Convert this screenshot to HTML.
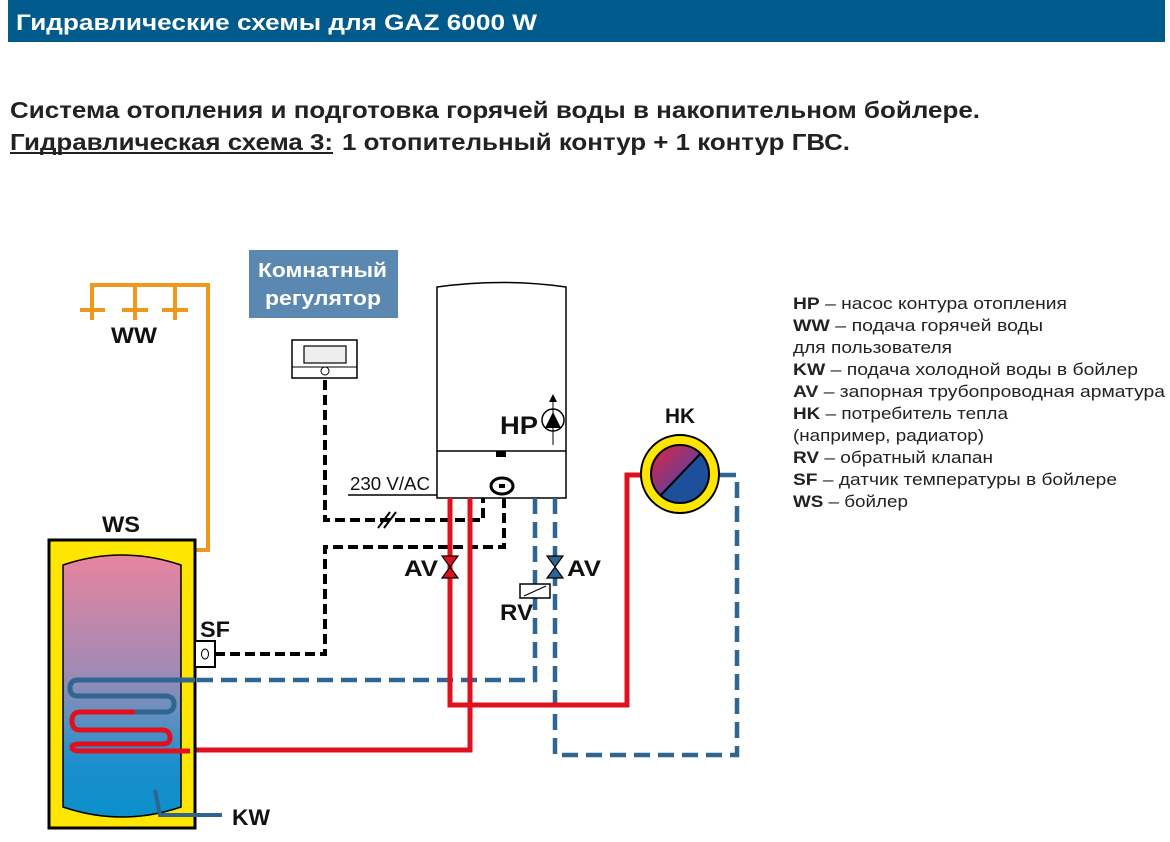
<!DOCTYPE html>
<html><head><meta charset="utf-8"><style>
html,body{margin:0;padding:0;background:#fff;}
svg{display:block;font-family:"Liberation Sans",sans-serif;}
</style></head><body>
<svg width="1170" height="842" viewBox="0 0 1170 842" xmlns="http://www.w3.org/2000/svg">
<defs>
<linearGradient id="tank" x1="0" y1="0" x2="0" y2="1">
<stop offset="0" stop-color="#e8849f"/><stop offset="0.45" stop-color="#a08ab5"/><stop offset="0.62" stop-color="#5f90c0"/><stop offset="0.8" stop-color="#1a8fcb"/><stop offset="1" stop-color="#0a90cc"/>
</linearGradient>
<linearGradient id="hk" x1="0" y1="0" x2="1" y2="1">
<stop offset="0" stop-color="#e4233a"/><stop offset="0.5" stop-color="#7a3a8a"/><stop offset="0.5" stop-color="#1e4f9a"/><stop offset="1" stop-color="#1e4f9a"/>
</linearGradient>
</defs>
<rect x="8" y="0" width="1157" height="42" fill="#005a8c"/>
<text x="16" y="30" fill="#fff" font-size="22" font-weight="bold" textLength="521" lengthAdjust="spacingAndGlyphs">Гидравлические схемы для GAZ 6000 W</text>
<text x="10" y="118" fill="#222" font-size="23" font-weight="bold" textLength="970" lengthAdjust="spacingAndGlyphs">Система отопления и подготовка горячей воды в накопительном бойлере.</text>
<text x="10" y="150" fill="#222" font-size="23" font-weight="bold" textLength="323" lengthAdjust="spacingAndGlyphs">Гидравлическая схема 3:</text>
<line x1="10" y1="153" x2="333" y2="153" stroke="#222" stroke-width="2"/>
<text x="342" y="150" fill="#222" font-size="23" font-weight="bold" textLength="508" lengthAdjust="spacingAndGlyphs">1 отопительный контур + 1 контур ГВС.</text>

<!-- WW orange -->
<g stroke="#f0981e" stroke-width="4" fill="none">
<path d="M92 320 V285 H208 V550 H180 L168 564"/>
<path d="M135 285 V320 M175 285 V320"/>
<path d="M80 310 H105 M122 310 H148 M162 310 H188"/>
</g>
<text x="111" y="343" font-size="22" font-weight="bold" fill="#111" textLength="46" lengthAdjust="spacingAndGlyphs">WW</text>

<!-- room regulator -->
<rect x="249" y="250" width="149" height="68" fill="#5b88b0"/>
<text x="258" y="277" fill="#fff" font-size="20" font-weight="bold" textLength="129" lengthAdjust="spacingAndGlyphs">Комнатный</text>
<text x="265" y="305" fill="#fff" font-size="20" font-weight="bold" textLength="116" lengthAdjust="spacingAndGlyphs">регулятор</text>
<rect x="292" y="340" width="65" height="38" fill="#fff" stroke="#000" stroke-width="1.5"/>
<rect x="304" y="346" width="42" height="17" fill="#eee" stroke="#000" stroke-width="1.2"/>
<line x1="292" y1="367" x2="357" y2="367" stroke="#000" stroke-width="1"/>
<circle cx="325" cy="371" r="4" fill="none" stroke="#000" stroke-width="1"/>

<!-- black dashed -->
<g stroke="#000" stroke-width="4" fill="none" stroke-dasharray="10,5">
<path d="M325 380 V520 H483 V497"/>
<path d="M215 654 H325 V547 H504 V490"/>
</g>
<path d="M378 528 L390 512 M384 528 L396 512" stroke="#000" stroke-width="2"/>

<!-- 230V -->
<text x="350" y="490" font-size="18" fill="#111" textLength="80" lengthAdjust="spacingAndGlyphs">230 V/AC</text>
<line x1="348" y1="495" x2="437" y2="495" stroke="#000" stroke-width="1.5"/>

<!-- boiler -->
<path d="M437 498 V287 Q502 278 566 287 V498 Z" fill="#fff" stroke="#000" stroke-width="1.5"/>
<line x1="437" y1="451" x2="566" y2="451" stroke="#000" stroke-width="1.5"/>
<rect x="496" y="451" width="10" height="6" fill="#000"/>
<ellipse cx="502" cy="486" rx="11" ry="8" fill="none" stroke="#000" stroke-width="3"/>
<rect x="499" y="484" width="6" height="4" fill="#000"/>
<text x="500" y="434" font-size="25" font-weight="bold" fill="#111" textLength="38" lengthAdjust="spacingAndGlyphs">HP</text>
<circle cx="553" cy="420" r="11" fill="#fff" stroke="#000" stroke-width="1.5"/>
<path d="M545 428 L553 412 L561 428 Z" fill="#000"/>
<line x1="553" y1="398" x2="553" y2="445" stroke="#000" stroke-width="1"/>
<path d="M549 402 L553 394 L557 402 Z" fill="#000"/>

<!-- blue dashed -->
<g stroke="#2f6590" stroke-width="4.5" fill="none" stroke-dasharray="16,8">
<path d="M535 498 V680 H195"/>
<path d="M555 498 V755 H737 V475 H720"/>
</g>

<!-- red -->
<g stroke="#e0101e" stroke-width="5" fill="none">
<path d="M450 498 V705 H627 V475 H642"/>
<path d="M470 498 V750 H190"/>
</g>

<!-- valves -->
<path d="M442 556 L458 556 L442 578 L458 578 Z" fill="#e0101e" stroke="#000" stroke-width="1.2"/>
<path d="M547 556 L563 556 L547 578 L563 578 Z" fill="#2f6590" stroke="#000" stroke-width="1.2"/>
<text x="404" y="576" font-size="22" font-weight="bold" fill="#111" textLength="34" lengthAdjust="spacingAndGlyphs">AV</text>
<text x="567" y="576" font-size="22" font-weight="bold" fill="#111" textLength="34" lengthAdjust="spacingAndGlyphs">AV</text>
<rect x="520" y="584" width="30" height="14" fill="#fff" stroke="#000" stroke-width="1.5"/>
<line x1="524" y1="596" x2="546" y2="586" stroke="#000" stroke-width="1.2"/>
<text x="500" y="620" font-size="22" font-weight="bold" fill="#111" textLength="33" lengthAdjust="spacingAndGlyphs">RV</text>

<!-- HK -->
<text x="665" y="423" font-size="21" font-weight="bold" fill="#111" textLength="30" lengthAdjust="spacingAndGlyphs">HK</text>
<circle cx="680" cy="474" r="39" fill="#ffe600" stroke="#000" stroke-width="2"/>
<circle cx="680" cy="474" r="29" fill="url(#hk)" stroke="#000" stroke-width="2"/>
<line x1="660" y1="496" x2="701" y2="453" stroke="#000" stroke-width="2"/>

<!-- tank -->
<text x="102" y="532" font-size="22" font-weight="bold" fill="#111" textLength="38" lengthAdjust="spacingAndGlyphs">WS</text>
<rect x="49" y="540" width="146" height="288" fill="#ffe600" stroke="#000" stroke-width="3"/>
<path d="M63 565 Q122 545 181 565 V807 Q122 827 63 807 Z" fill="url(#tank)" stroke="#000" stroke-width="1.5"/>
<path d="M195 680 H78 Q70 680 70 688 Q70 696 78 696 H165 Q174 696 174 704 Q174 712 165 712 H135" fill="none" stroke="#2f6590" stroke-width="5"/>
<path d="M135 712 H80 Q72 712 72 721 Q72 730 80 730 H162 Q170 730 170 738 Q170 744 162 744 H80" fill="none" stroke="#e0101e" stroke-width="5"/>
<path d="M80 744 Q72 744 72 747 Q72 751 80 751 H190" fill="none" stroke="#e0101e" stroke-width="5"/>
<rect x="195" y="641" width="20" height="26" fill="#fff" stroke="#000" stroke-width="2"/>
<ellipse cx="205" cy="654" rx="3.5" ry="5" fill="none" stroke="#000" stroke-width="1"/>
<text x="200" y="637" font-size="22" font-weight="bold" fill="#111" textLength="30" lengthAdjust="spacingAndGlyphs">SF</text>
<path d="M155 790 L160 815 H222" fill="none" stroke="#2f6590" stroke-width="4"/>
<text x="232" y="825" font-size="22" font-weight="bold" fill="#111" textLength="38" lengthAdjust="spacingAndGlyphs">KW</text>

<!-- legend -->
<g font-size="17" fill="#222" lengthAdjust="spacingAndGlyphs">
<text x="793" y="309" textLength="274" lengthAdjust="spacingAndGlyphs"><tspan font-weight="bold">HP</tspan> – насос контура отопления</text>
<text x="793" y="331" textLength="250" lengthAdjust="spacingAndGlyphs"><tspan font-weight="bold">WW</tspan> – подача горячей воды</text>
<text x="793" y="353" textLength="159" lengthAdjust="spacingAndGlyphs">для пользователя</text>
<text x="793" y="375" textLength="345" lengthAdjust="spacingAndGlyphs"><tspan font-weight="bold">KW</tspan> – подача холодной воды в бойлер</text>
<text x="793" y="397" textLength="372" lengthAdjust="spacingAndGlyphs"><tspan font-weight="bold">AV</tspan> – запорная трубопроводная арматура</text>
<text x="793" y="419" textLength="215" lengthAdjust="spacingAndGlyphs"><tspan font-weight="bold">HK</tspan> – потребитель тепла</text>
<text x="793" y="441" textLength="191" lengthAdjust="spacingAndGlyphs">(например, радиатор)</text>
<text x="793" y="463" textLength="200" lengthAdjust="spacingAndGlyphs"><tspan font-weight="bold">RV</tspan> – обратный клапан</text>
<text x="793" y="485" textLength="324" lengthAdjust="spacingAndGlyphs"><tspan font-weight="bold">SF</tspan> – датчик температуры в бойлере</text>
<text x="793" y="507" textLength="115" lengthAdjust="spacingAndGlyphs"><tspan font-weight="bold">WS</tspan> – бойлер</text>
</g>
</svg>
</body></html>
